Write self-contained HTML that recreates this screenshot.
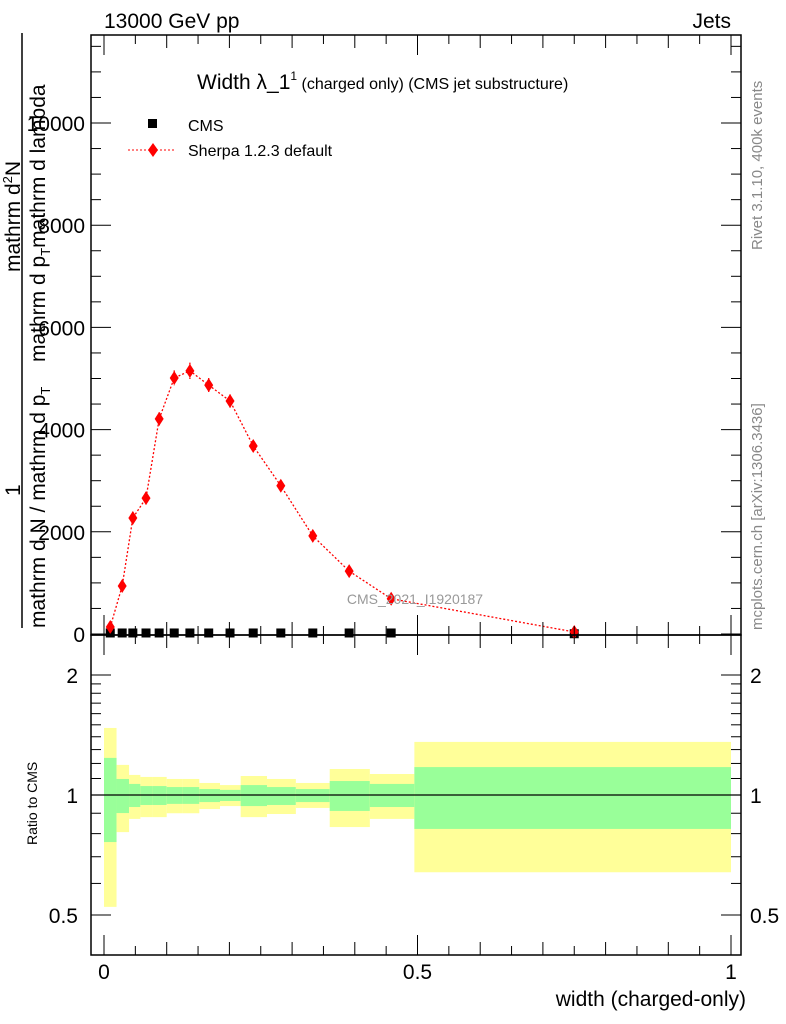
<!DOCTYPE html>
<html><head><meta charset="utf-8"><style>
html,body{margin:0;padding:0;background:#fff;}
svg{display:block;font-family:"Liberation Sans",sans-serif;}
</style></head><body>
<svg id="chart" width="786" height="1024" viewBox="0 0 786 1024" xmlns="http://www.w3.org/2000/svg">
<g id="bands"></g>
<g id="marks"></g>
<g id="axes"></g>
<rect x="91" y="35" width="650" height="600" fill="none" stroke="#000" stroke-width="1.5"/>
<rect x="91" y="635" width="650" height="320" fill="none" stroke="#000" stroke-width="1.5"/>
<text x="104" y="28" font-size="21">13000 GeV pp</text>
<text x="731" y="28" font-size="21" text-anchor="end">Jets</text>
<text x="197" y="89" font-size="21">Width λ_1<tspan font-size="12" dy="-9">1</tspan><tspan font-size="16" dy="9"> (charged only) (CMS jet substructure)</tspan></text>
<g>
<rect x="148" y="119" width="9" height="9" fill="#000"/>
<text x="188" y="131" font-size="16">CMS</text>
<line x1="128" y1="150" x2="176" y2="150" stroke="red" stroke-dasharray="2,2"/>
<path d="M153,143 L158,150 L153,157 L148,150Z" fill="red"/>
<text x="188" y="156" font-size="16">Sherpa 1.2.3 default</text>
</g>
<text x="415" y="604" font-size="14" fill="#999" text-anchor="middle">CMS_2021_I1920187</text>
<text transform="translate(762,250) rotate(-90)" font-size="15" fill="#888">Rivet 3.1.10,  400k events</text>
<text transform="translate(762,630) rotate(-90)" font-size="15" fill="#888">mcplots.cern.ch [arXiv:1306.3436]</text>
<g font-size="21">
<text transform="translate(20,272) rotate(-90)">mathrm d<tspan font-size="13" dy="-8">2</tspan><tspan dy="8">N</tspan></text>
<text transform="translate(20,496) rotate(-90)">1</text>
<line x1="22" y1="33" x2="22" y2="628" stroke="#000" stroke-width="1.5"/>
<text transform="translate(45,628) rotate(-90)">mathrm d N / mathrm d p<tspan font-size="13" dy="5">T</tspan></text>
<text transform="translate(45,362) rotate(-90)">mathrm d p<tspan font-size="13" dy="5">T</tspan><tspan dy="-5">mathrm d lambda</tspan></text>
</g>
<text transform="translate(37,845) rotate(-90)" font-size="14">Ratio to CMS</text>
<text x="746" y="1006" font-size="21" text-anchor="end">width (charged-only)</text>
</svg>
<script>
const edges=[0,0.02,0.04,0.058,0.078,0.1,0.125,0.152,0.185,0.218,0.26,0.306,0.36,0.424,0.495,1.0];
const xCenters=[0.01,0.029,0.046,0.067,0.088,0.112,0.137,0.167,0.201,0.238,0.282,0.333,0.391,0.458,0.75];
const sherpaVals=[137,940,2270,2660,4210,5010,5150,4870,4560,3680,2900,1920,1230,690,40];
const sherpaErr=[60,80,120,120,130,150,160,140,130,110,90,60,50,40,20];
const cmsVals=[20,20,20,20,20,20,20,20,20,20,20,20,20,20,5];
const greenHi=[1.239,1.097,1.066,1.053,1.053,1.047,1.047,1.035,1.03,1.059,1.047,1.035,1.084,1.066,1.175];
const greenLo=[0.762,0.901,0.933,0.944,0.944,0.95,0.95,0.96,0.966,0.938,0.944,0.96,0.912,0.933,0.822];
const yellowHi=[1.473,1.19,1.123,1.11,1.11,1.097,1.097,1.072,1.059,1.116,1.097,1.072,1.162,1.129,1.359];
const yellowLo=[0.524,0.807,0.871,0.88,0.88,0.9,0.9,0.922,0.938,0.88,0.896,0.928,0.831,0.871,0.64];
const yTicks=[0,2000,4000,6000,8000,10000];
const xTicks=[0,0.5,1];
const rTicks=[0.5,1,2];

const NS="http://www.w3.org/2000/svg";
const X=v=>104+627*v;
const Y=v=>634-0.0511*v;
const R=r=>795-173.1*Math.log(r);
function mk(tag,attrs,parent){const e=document.createElementNS(NS,tag);for(const k in attrs)e.setAttribute(k,attrs[k]);parent.appendChild(e);return e;}
const bands=document.getElementById('bands'),marks=document.getElementById('marks'),axes=document.getElementById('axes');
for(let i=0;i<greenHi.length;i++){
 const x0=X(edges[i]),x1=X(edges[i+1]);
 const y=mk('rect',{x:x0,y:R(yellowHi[i]),width:x1-x0,height:R(yellowLo[i])-R(yellowHi[i]),fill:'#ffff99'},bands);
 
 
 const g=mk('rect',{x:x0,y:R(greenHi[i]),width:x1-x0,height:R(greenLo[i])-R(greenHi[i]),fill:'#99ff99'},bands);
 
 
}
const one=mk('line',{x1:91,x2:741,y1:R(1),y2:R(1),stroke:'#000','stroke-width':1.2},bands);


for(let i=0;i<cmsVals.length;i++){
 const s=mk('rect',{x:X(xCenters[i])-4.5,y:Y(cmsVals[i])-4.5,width:9,height:9,fill:'#000'},marks);
 
 
}
const pts=xCenters.map((v,i)=>X(v)+','+Y(sherpaVals[i])).join(' ');
const pl=mk('polyline',{points:pts,fill:'none',stroke:'red','stroke-width':1.3,'stroke-dasharray':'2,2'},marks);


for(let i=0;i<sherpaVals.length;i++){
 const cx=X(xCenters[i]),cy=Y(sherpaVals[i]);
 const eb=mk('line',{x1:cx,x2:cx,y1:Y(sherpaVals[i]+sherpaErr[i]),y2:Y(sherpaVals[i]-sherpaErr[i]),stroke:'red','stroke-width':1.3,'stroke-dasharray':'2,1'},marks);
 
 
 const d=mk('path',{d:`M${cx},${cy-7}L${cx+4.5},${cy}L${cx},${cy+7}L${cx-4.5},${cy}Z`,fill:'red'},marks);
 
 
}
for(let v=0;v<=11500;v+=500){
 const maj=v%2000===0,y=Y(v),len=maj?20:10;
 mk('line',{x1:91,x2:91+len,y1:y,y2:y,stroke:'#000'},axes);
 mk('line',{x1:741,x2:741-len,y1:y,y2:y,stroke:'#000'},axes);
}
yTicks.forEach(v=>{
 const t=mk('text',{x:85,y:Y(v)+8,'font-size':21,'text-anchor':'end'},axes);t.textContent=String(v);
 
 
});
for(let k=0;k<=20;k++){
 const v=k*0.05,x=X(v),maj=k%10===0,len=maj?20:(k%2===0?13:9);
 [[635,-1],[35,1],[955,-1],[635,1]].forEach(([y0,s])=>mk('line',{x1:x,x2:x,y1:y0,y2:y0+s*len,stroke:'#000'},axes));
}
xTicks.forEach(v=>{
 const t=mk('text',{x:X(v),y:979,'font-size':21,'text-anchor':'middle'},axes);t.textContent=String(v);
 
 
});
[0.5,0.6,0.7,0.8,0.9,1,1.1,1.2,1.3,1.4,1.5,1.6,1.7,1.8,1.9,2].forEach(r=>{
 const maj=rTicks.includes(r),y=R(r),len=maj?20:10;
 mk('line',{x1:91,x2:91+len,y1:y,y2:y,stroke:'#000'},axes);
 mk('line',{x1:741,x2:741-len,y1:y,y2:y,stroke:'#000'},axes);
});
rTicks.forEach(r=>{
 const t=mk('text',{x:78,y:R(r)+8,'font-size':21,'text-anchor':'end'},axes);t.textContent=String(r);
 
 
 const t2=mk('text',{x:750,y:R(r)+8,'font-size':21},axes);t2.textContent=String(r);
 
 
});
</script>
</body></html>
